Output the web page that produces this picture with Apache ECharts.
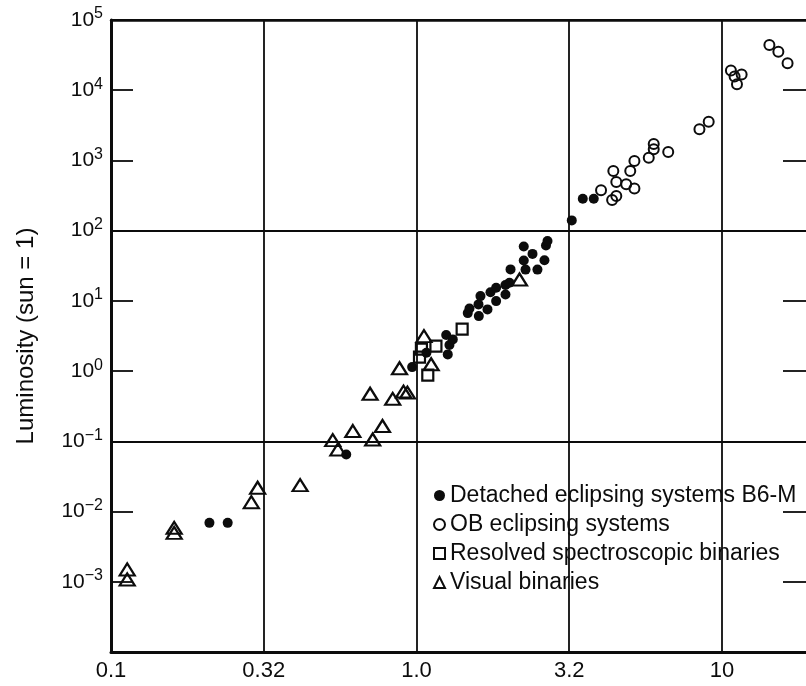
<!DOCTYPE html>
<html>
<head>
<meta charset="utf-8">
<script src="https://cdn.jsdelivr.net/npm/echarts@6/dist/echarts.min.js"></script>
<style>
  html, body { margin: 0; padding: 0; background: #fff; }
  #chart { width: 806px; height: 686px; }
</style>
</head>
<body>
<div id="chart"></div>
<script>
// tick labels (x in half decades from 0.1, y as powers of ten)
const xTickLabels = ['0.1', '0.32', '1.0', '3.2', '10']
const yTickExps = [-3, -2, -1, 0, 1, 2, 3, 4, 5]

// [x, luminosity]
const detached = [
  [0.210, 0.0069], [0.241, 0.0069], [0.589, 0.065], [0.968, 1.14], [1.078, 1.83],
  [1.251, 3.26], [1.282, 2.35], [1.266, 1.73], [1.315, 2.83], [1.472, 6.70],
  [1.491, 7.77], [1.600, 6.07], [1.596, 8.91], [1.620, 11.7], [1.708, 7.57],
  [1.747, 13.3], [1.823, 15.4], [1.823, 9.93], [1.956, 16.8], [1.956, 12.3],
  [2.016, 18.1], [2.032, 28.1], [2.275, 27.9], [2.489, 27.9], [2.245, 37.5],
  [2.624, 37.9], [2.398, 46.7], [2.245, 59.4], [2.654, 61.4], [2.685, 71.1],
  [3.224, 140], [3.503, 285], [3.805, 285]
]
const obEclipsing = [
  [4.02, 375], [4.37, 273], [4.51, 311], [4.41, 706], [4.51, 492], [4.86, 457],
  [5.17, 400], [5.01, 706], [5.17, 980], [5.76, 1092], [5.98, 1439], [5.98, 1713],
  [6.67, 1318], [8.44, 2773], [9.05, 3559], [10.7, 19090], [11.6, 16740],
  [11.2, 12130], [11.0, 15670], [14.3, 44060], [15.3, 35340], [16.4, 24160]
]
const resolved = [
  [1.411, 3.97], [1.158, 2.27], [1.038, 2.06], [1.023, 1.58], [1.089, 0.877]
]
const visual = [
  [0.113, 0.0015], [0.113, 0.00108], [0.161, 0.00586], [0.161, 0.00497],
  [0.288, 0.0136], [0.302, 0.0218], [0.416, 0.0238], [0.532, 0.104],
  [0.553, 0.0767], [0.619, 0.140], [0.719, 0.106], [0.774, 0.165],
  [0.705, 0.475], [0.836, 0.403], [0.907, 0.511], [0.934, 0.494],
  [0.880, 1.10], [1.058, 3.15], [1.117, 1.25], [2.174, 20.2]
]

const FONT = "'Liberation Sans', Arial, sans-serif"
const INK = '#0c0c0c'
const X_MIN_LOG = -1
const X_MAX_LOG = 1.285
const sup = n => (n < 0 ? '\u2212' + (-n) : '' + n)

const chart = echarts.init(document.getElementById('chart'))

const hollow = { color: 'rgba(0,0,0,0)', borderColor: INK, borderWidth: 2, opacity: 1 }

chart.setOption({
  animation: false,
  backgroundColor: '#fff',
  textStyle: { fontFamily: FONT, color: INK },
  // right edge of the frame falls just outside the picture
  grid: { left: 111, top: 20, width: 698, bottom: 34, outerBoundsMode: 'none' },
  legend: {
    orient: 'vertical',
    left: 428,
    top: 479,
    itemWidth: 11,
    itemHeight: 11,
    itemGap: 6,
    textStyle: { fontSize: 23, lineHeight: 23, color: INK, fontFamily: FONT },
    data: [
      'Detached eclipsing systems B6-M',
      'OB eclipsing systems',
      'Resolved spectroscopic binaries',
      'Visual binaries'
    ]
  },
  xAxis: [
    {
      // labels + vertical grid, in log10 units
      type: 'value',
      position: 'bottom',
      min: X_MIN_LOG,
      max: X_MAX_LOG,
      interval: 0.5,
      axisLine: { show: true, onZero: false, lineStyle: { color: INK, width: 3 } },
      axisTick: { show: false },
      axisLabel: {
        margin: 8,
        fontSize: 22,
        color: INK,
        fontFamily: FONT,
        showMaxLabel: false,
        formatter: v => xTickLabels[Math.round((v - X_MIN_LOG) * 2)] ?? ''
      },
      splitLine: { show: true, lineStyle: { color: INK, width: 1.8 } }
    },
    {
      // data axis
      type: 'log',
      logBase: 10,
      position: 'top',
      min: Math.pow(10, X_MIN_LOG),
      max: Math.pow(10, X_MAX_LOG),
      axisLine: { show: true, onZero: false, lineStyle: { color: INK, width: 2.5 } },
      axisTick: { show: false },
      axisLabel: { show: false },
      splitLine: { show: false }
    }
  ],
  yAxis: [
    {
      type: 'value',
      position: 'left',
      min: -4,
      max: 5,
      interval: 1,
      name: 'Luminosity (sun = 1)',
      nameLocation: 'middle',
      nameGap: 73,
      nameTextStyle: { fontSize: 24, color: INK, fontFamily: FONT },
      axisLine: { show: true, onZero: false, lineStyle: { color: INK, width: 3 } },
      axisTick: { show: true, inside: true, length: 22, lineStyle: { color: INK, width: 1.8 } },
      axisLabel: {
        margin: 8,
        showMinLabel: false,
        formatter: v => yTickExps.includes(v) ? `{b|10}{s|${sup(v)}}` : '',
        rich: {
          b: { fontSize: 21, fontFamily: FONT, color: INK },
          s: { fontSize: 16, lineHeight: 16, fontFamily: FONT, color: INK, padding: [0, 0, 12, 0] }
        }
      },
      splitLine: { show: false }
    },
    {
      type: 'value',
      position: 'right',
      min: -4,
      max: 5,
      interval: 1,
      axisLine: { show: false, onZero: false },
      axisTick: { show: true, inside: true, length: 26, lineStyle: { color: INK, width: 1.8 } },
      axisLabel: { show: false },
      splitLine: { show: false }
    },
    {
      // horizontal grid every third decade
      type: 'value',
      min: -4,
      max: 5,
      interval: 3,
      axisLine: { show: false, onZero: false },
      axisTick: { show: false },
      axisLabel: { show: false },
      splitLine: { show: true, lineStyle: { color: INK, width: 1.8 } }
    },
    {
      // data axis
      type: 'log',
      logBase: 10,
      min: 1e-4,
      max: 1e5,
      axisLine: { show: false, onZero: false },
      axisTick: { show: false },
      axisLabel: { show: false },
      splitLine: { show: false }
    }
  ],
  series: [
    {
      name: 'Detached eclipsing systems B6-M',
      type: 'scatter',
      xAxisIndex: 1,
      yAxisIndex: 3,
      symbol: 'circle',
      symbolSize: 10,
      itemStyle: { color: INK, opacity: 1 },
      data: detached
    },
    {
      name: 'OB eclipsing systems',
      type: 'scatter',
      xAxisIndex: 1,
      yAxisIndex: 3,
      symbol: 'circle',
      symbolSize: 10,
      itemStyle: hollow,
      data: obEclipsing
    },
    {
      name: 'Resolved spectroscopic binaries',
      type: 'scatter',
      xAxisIndex: 1,
      yAxisIndex: 3,
      symbol: 'rect',
      symbolSize: 11,
      itemStyle: { ...hollow, borderWidth: 2.2 },
      data: resolved
    },
    {
      name: 'Visual binaries',
      type: 'scatter',
      xAxisIndex: 1,
      yAxisIndex: 3,
      symbol: 'triangle',
      symbolSize: [15, 12],
      itemStyle: { ...hollow, borderWidth: 2.2 },
      data: visual
    }
  ]
})
</script>
</body>
</html>
